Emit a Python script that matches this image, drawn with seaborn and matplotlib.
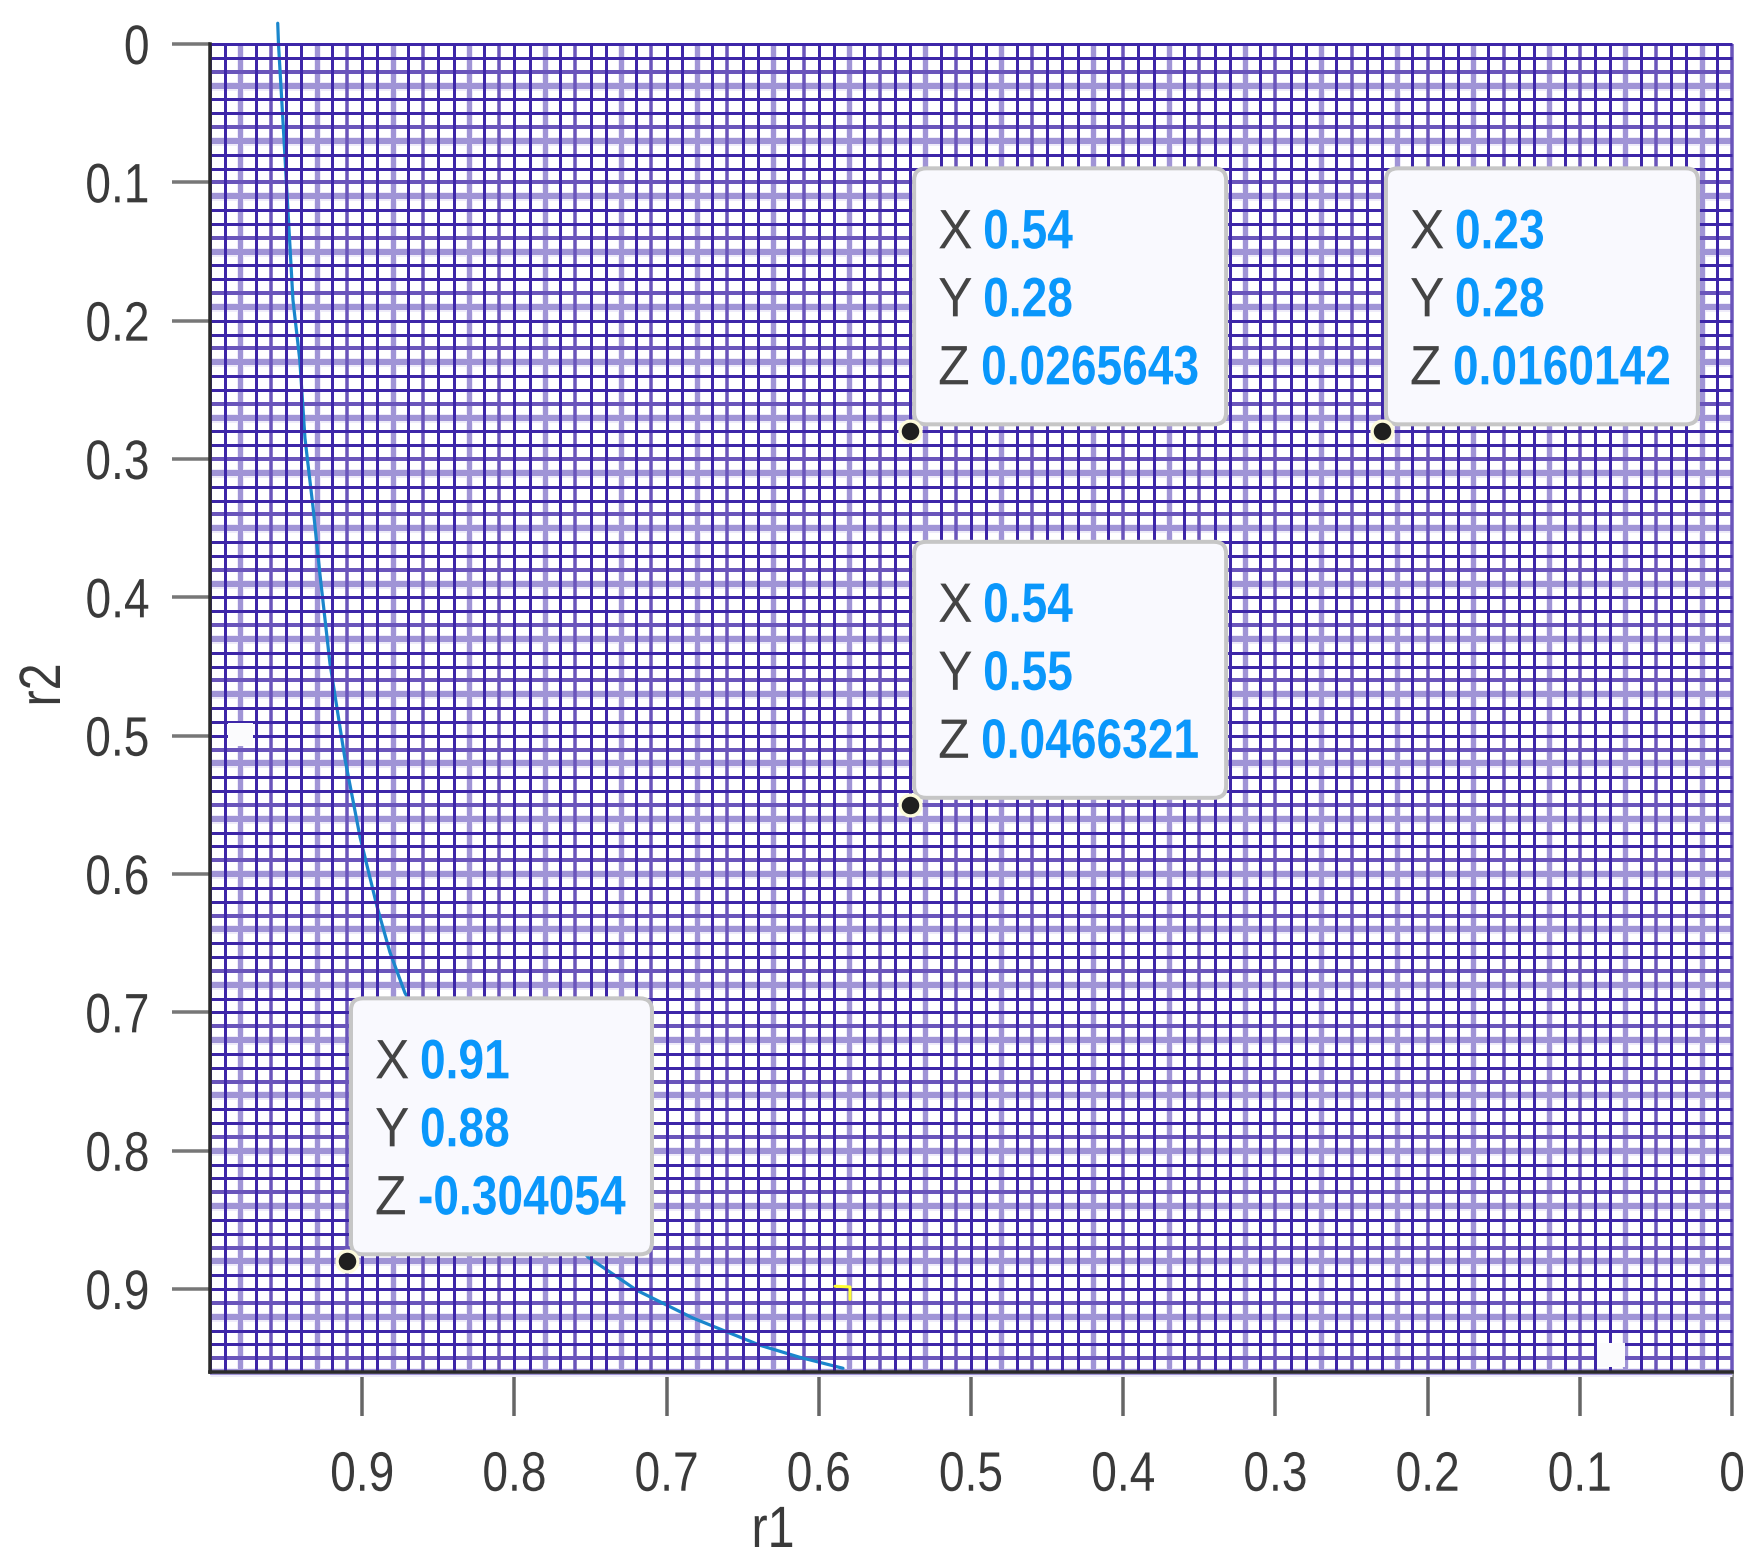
import numpy as np
import pandas as pd
import matplotlib
matplotlib.use("Agg")
import matplotlib.pyplot as plt
from matplotlib.patches import FancyBboxPatch, Rectangle
from matplotlib.patheffects import AbstractPathEffect
from matplotlib.transforms import Affine2D
import seaborn as sns

# ---- data ----
curve_r1 = [0.9555, 0.9550, 0.9520, 0.9455, 0.9410, 0.9376, 0.9323, 0.9277, 0.9212, 0.9113,
            0.9014, 0.8903, 0.8818, 0.8719, 0.8400, 0.8000, 0.7516, 0.7195, 0.6827, 0.6386,
            0.6124, 0.5841]
curve_r2 = [-0.015, 0.000, 0.057, 0.185, 0.2285, 0.285, 0.335, 0.384, 0.4476, 0.517,
            0.5734, 0.6233, 0.6565, 0.686, 0.745, 0.812, 0.877, 0.901, 0.921, 0.9407,
            0.9494, 0.9573]
tip_x = ["0.54", "0.23", "0.54", "0.91"]
tip_y = ["0.28", "0.28", "0.55", "0.88"]
tip_z = ["0.0265643", "0.0160142", "0.0466321", "-0.304054"]
tip_w = [312, 312, 312, 301]
ticks_r1 = [0.9, 0.8, 0.7, 0.6, 0.5, 0.4, 0.3, 0.2, 0.1, 0]
ticks_r2 = [0, 0.1, 0.2, 0.3, 0.4, 0.5, 0.6, 0.7, 0.8, 0.9]
gap_r1 = [(0.9885, 0.972), (0.0887, 0.0703)]
gap_r2 = [(0.491, 0.5075), (0.939, 0.9566)]
hook_r1 = [0.5894, 0.5795, 0.5795]
hook_r2 = [0.898, 0.8985, 0.9076]

W, H, DPI = 1762, 1568, 100
PX = 72 / DPI
TXT = "#3a3a3a"


class Condense(AbstractPathEffect):
    """Draw real text narrower along its own direction (the reference is squeezed)."""

    def __init__(self, sx=0.83, pivot="left"):
        super().__init__()
        self.sx, self.pivot = sx, pivot

    def draw_path(self, renderer, gc, tpath, affine, rgbFace=None):
        ext = tpath.get_extents()
        p = {"left": 0.0, "center": (ext.x0 + ext.x1) / 2, "right": ext.x1}[self.pivot]
        tr = Affine2D().translate(-p, 0).scale(self.sx, 1).translate(p, 0) + affine
        renderer.draw_path(gc, tpath, tr, rgbFace)


sns.set_theme(style="white")
plt.rcParams["font.family"] = ["Liberation Sans", "DejaVu Sans"]

fig = plt.figure(figsize=(W / DPI, H / DPI), dpi=DPI, facecolor="white")
ax = fig.add_axes([210 / W, 1 - 1372 / H, 1522 / W, 1328 / H])
ax.set_xlim(1.0, 0.0)
ax.set_ylim(0.96, 0.0)

# ---- surface mesh (moire of the resampled mesh lines) ----
DARK, MID, LIGHT = "#3d26a8", "#6a55bb", "#a094d6"
HALO = "#eeebf9"


def kind(i, period, phase, mid_at):
    f = ((i - phase) / period) % 1.0
    step = 1.0 / period
    if f < step * 0.5 or f >= 1 - step * 0.5:
        return "L"
    if abs(f - mid_at) < step * 0.5:
        return "M"
    return "D"


cols = np.arange(0, 101)
rows = np.arange(0, 97)
col_k = [kind(i, 5.06, 2, 0.6) for i in cols]
row_k = [kind(i, 4.045, 3, 0.75) for i in rows]
vkw = dict(clip_on=False, capstyle="butt")

#            kind  colour  row px  col px  z
for want, color, lwr, lwc, z in [("L", HALO, 9, 7, 1.0), ("L", LIGHT, 6, 5, 1.1),
                                 ("M", MID, 4, 3.5, 1.2), ("D", DARK, 3, 3, 1.3)]:
    xs = [c / 100 for c, k in zip(cols, col_k) if k == want]
    ys = [r / 100 for r, k in zip(rows, row_k) if k == want]
    ax.hlines(ys, 0, 1, color=color, lw=lwr * PX, zorder=z, **vkw)
    ax.vlines(xs, 0, 0.96, color=color, lw=lwc * PX, zorder=z + 0.01, **vkw)

for (a, b), (c, d) in zip(gap_r1, gap_r2):
    ax.add_patch(Rectangle((b, c), a - b, d - c, fc="#fbfbfd", ec="none", zorder=1.6))

# ---- contour ----
curve = pd.DataFrame({"r1": curve_r1, "r2": curve_r2})
sns.lineplot(data=curve, x="r1", y="r2", sort=False, estimator=None, color="#1a86cc",
             lw=3.2 * PX, ax=ax, legend=False, zorder=1.25, clip_on=False)
sns.lineplot(x=hook_r1, y=hook_r2, sort=False, estimator=None, color="#ffff33",
             lw=3 * PX, ax=ax, legend=False, zorder=2)
sns.scatterplot(x=[float(v) for v in tip_x], y=[float(v) for v in tip_y], s=225, color="#1f1f1f",
                edgecolor="#fdfbdc", linewidth=2.4, ax=ax, zorder=7, legend=False)
ax.set_xlim(1.0, 0.0)
ax.set_ylim(0.96, 0.0)

# ---- axes ----
for s in ("top", "right"):
    ax.spines[s].set_visible(False)
for s in ("left", "bottom"):
    ax.spines[s].set_color("#2b2b2b")
    ax.spines[s].set_linewidth(3.5 * PX)
    ax.spines[s].set_zorder(4)
ax.set_xticks(ticks_r1)
ax.set_xticklabels([f"{v:g}" for v in ticks_r1])
ax.set_yticks(ticks_r2)
ax.set_yticklabels([f"{v:g}" for v in ticks_r2])
ax.tick_params(axis="x", direction="out", length=44 * PX, width=3.5 * PX, color="#666666",
               labelsize=40, labelcolor=TXT, pad=25, bottom=True)
ax.tick_params(axis="y", direction="out", length=38 * PX, width=3.5 * PX, color="#777777",
               labelsize=40, labelcolor=TXT, pad=16, left=True)
for t in ax.get_xticklabels():
    t.set_path_effects([Condense(pivot="center")])
for t in ax.get_yticklabels():
    t.set_path_effects([Condense(pivot="right")])
ax.set_xlabel("r1", fontsize=42, color=TXT, va="baseline",
              path_effects=[Condense(pivot="center")])
ax.set_ylabel("r2", fontsize=42, color=TXT, va="baseline",
              path_effects=[Condense(pivot="center")])
ax.xaxis.set_label_coords((773 - 210) / 1522, -(1547 - 1372) / 1328)
ax.yaxis.set_label_coords((60 - 210) / 1522, 1 - (685 - 44) / 1328)

# ---- data tips ----
fig.canvas.draw()
for xs, ys, zs, w in zip(tip_x, tip_y, tip_z, tip_w):
    px, py = ax.transData.transform((float(xs), float(ys)))
    tr = Affine2D().translate(px, py)
    ax.add_patch(FancyBboxPatch((4, 7), w, 256, boxstyle="round,pad=0,rounding_size=12",
                                fc="#f9f9fe", ec="#c6c6c6", lw=4 * PX, transform=tr,
                                zorder=5, clip_on=False))
    for name, val, base, off in [("X", xs, 183, 73), ("Y", ys, 115, 73), ("Z", zs, 47, 71)]:
        ax.text(28, base, name, transform=tr, fontsize=40, color="#444444", va="baseline",
                ha="left", zorder=6, clip_on=False, path_effects=[Condense(sx=0.93)])
        ax.text(off, base, val, transform=tr, fontsize=40, color="#0a97fb", fontweight="bold",
                va="baseline", ha="left", zorder=6, clip_on=False, path_effects=[Condense()])

fig.savefig("out.png", dpi=DPI, facecolor="white")
